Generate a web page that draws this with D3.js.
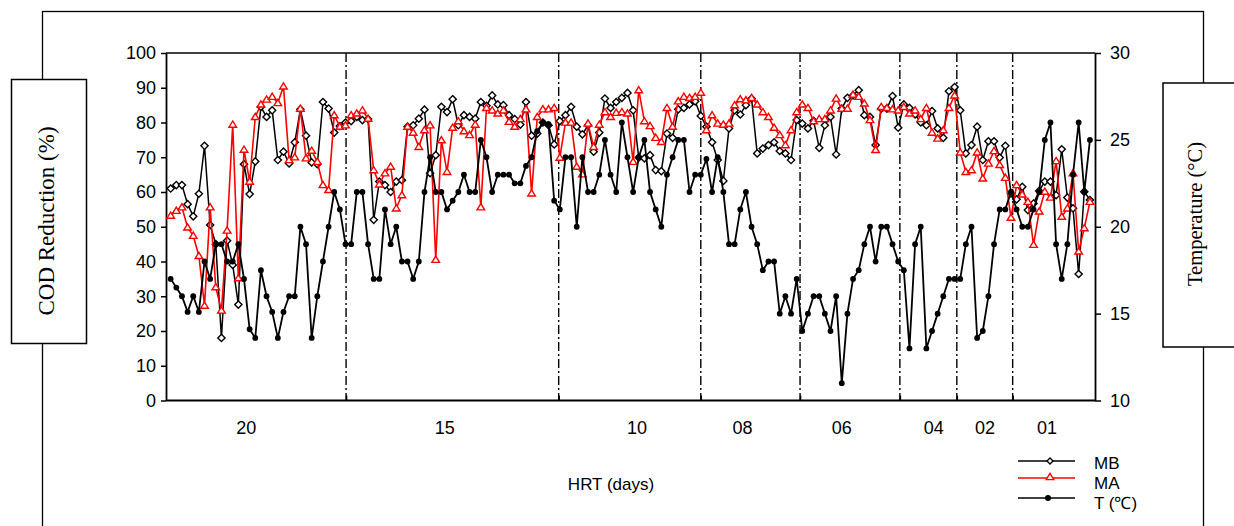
<!DOCTYPE html>
<html><head><meta charset="utf-8">
<script src="https://cdn.jsdelivr.net/npm/d3@7"></script>
<style>body{margin:0;background:#fff;} svg{display:block}</style>
</head><body><svg id="c" width="1234" height="526"></svg>
<script>
// COD reduction (%) for reactor MB
const mbValues = [61,62,62,56.5,53,59.5,73.3,50.5,45,18,46,39,27.6,68,59.4,68.8,84.5,81.6,83.5,69.2,
71.6,68.2,74.3,83.8,76.2,68.5,68,85.9,84,77.1,79,80,80.4,81.6,80.7,81,52,63,62,60,
63,63.4,78.8,79.2,81.1,83.7,65.4,70.6,84.5,83,86.7,79.2,82.1,81.6,81.1,85.9,84.8,87.8,85.2,85,
82.1,81,79.4,85.9,76.2,76.8,80,79.2,73.7,80.4,82.1,84.5,78.8,76.6,79.2,71.6,77.1,86.9,84.2,85.9,
87.1,88.5,83.5,69.9,69.7,70.6,66.3,66,76.8,75.6,83.8,84.2,85.2,86.1,81.9,78.8,74.3,69.2,63.2,78.3,
83.5,82.3,85,86.9,71.1,72.5,73.5,74.3,71.8,71.1,69.2,80.7,79.7,78.3,80.5,72.7,79.2,81.6,70.8,84,
87.1,87.8,89.3,82.1,81.6,73.5,84,84,87.6,78.5,85.2,84.2,82.3,80,79.2,83.3,78.3,75.6,89,90.2,
83.5,71.1,73.5,78.8,69.2,74.6,74.6,69.9,73.3,59.6,57.9,61.5,54.8,56.7,60.3,63,63,59.1,72.3,58.4,
55.3,36.4,60.1,57.7];
// COD reduction (%) for reactor MA
const maValues = [53.2,54.6,55.6,49.8,47.4,41.6,27.3,55.6,32.6,25.9,48.9,79.4,35.2,72.2,63,81.6,85.2,86.6,87.4,85.6,
90.4,69.2,70,84,69.7,71.9,68.7,62,60.6,82.1,78.8,79.2,82.1,82.6,83.5,81.1,66.3,62.2,65.4,67.3,
55.3,59.1,78.8,77.1,73,77.8,79.2,40.5,74.9,65.8,78.5,80.4,77.5,76.4,79.4,55.6,84.2,83.5,82.6,83.5,
80.2,78.8,81,83.8,59.6,81.6,83.8,83.8,84.2,69.9,80,80,67.3,65.1,79.7,73,79.4,83,81.6,82.8,
83,82.6,68.7,89.3,80.4,79,75.6,74.4,84.2,78.8,86.1,87.4,87.1,87.4,88.6,77.8,82.1,79.7,79.4,79.7,
85,86.7,86.4,87.1,85.2,83,81.6,78.5,76.4,73.5,77.8,83,85.2,84.2,80.4,81,81,83.5,86.9,84,
84,88,87.4,85.5,80.7,72.1,84.5,84.2,83.8,83.5,84.5,82.6,83.5,81,84.2,77.1,75.4,77.8,84.2,87.8,
71.4,65.8,66.3,71.4,63.9,68.2,71.8,67.8,64.1,52.6,62,59.3,57.2,44.8,54.4,60.1,58.4,68.9,52.9,55.3,
65.4,42.9,49.6,57.2];
// Temperature (°C)
const tempValues = [17,16.5,16,15.1,16,15.1,18,17,19,19,18,18,19,17,14.1,13.6,17.5,16,15.1,13.6,
15.1,16,16,20,19,13.6,16,18,20,22,21,19,19,22,22,19,17,17,21,19,
20,18,18,17,18,22,24,22,22,21,21.5,22,23,22,22,25,24,22,23,23,
23,22.5,22.5,23.5,24,25.5,26,25.9,21.5,21,24,24,20,24,22,22,23,25,23,22,
26,24,22,24,25,22,21,20,23,24,25,25,22,23,23,23.9,22,24,22,19,
19,21,22,20,19,17.5,18,18,15,16,15,17,14,15,16,16,15,14,16,11,
15,17,17.5,19,20,18,20,20,19,18,17.5,13,19,20,13,14,15,16,17,17,
17,19,20,13.6,14,16,19,21,21,22,21,20,20,21,22,25,26,19,17,19,
23,26,22,25];
// HRT phases (days), positions given in sample-index units
const hrtLabels = ["20","15","10","08","06","04","02","01"];
const hrtLabelAt = [13.4,48.6,82.7,101.4,119,135.3,144.4,155.4];
const hrtBoundaries = [31.1,68.8,94.0,111.6,129.3,139.4,149.3];
const codTicks = [0,10,20,30,40,50,60,70,80,90,100];
const tempTicks = [10,15,20,25,30];
const legendNames = ["MB","MA","T (\u2103)"];

const svg = d3.select("#c");
const sans = "Arial, 'Liberation Sans', sans-serif";
const serif = "'Times New Roman', 'Liberation Serif', serif";

const L = 166, R = 1095, T = 53, B = 400.5;
const x = d3.scaleLinear().domain([-0.83, mbValues.length - 1 + 0.9]).range([L, R]);
const yL = d3.scaleLinear().domain([0, 100]).range([B, T]);
const yR = d3.scaleLinear().domain([10, 30]).range([B, T]);

// outer frame
svg.append("rect").attr("x", 42.5).attr("y", 11.5).attr("width", 1161).attr("height", 600)
  .attr("fill", "none").attr("stroke", "#000").attr("stroke-width", 1.3);
// label boxes
svg.append("rect").attr("x", 11.5).attr("y", 79.5).attr("width", 75).attr("height", 264)
  .attr("fill", "#fff").attr("stroke", "#000").attr("stroke-width", 1.5);
svg.append("rect").attr("x", 1163).attr("y", 83).attr("width", 120).attr("height", 264)
  .attr("fill", "#fff").attr("stroke", "#000").attr("stroke-width", 1.5);
svg.append("text").attr("transform", "translate(54,221) rotate(-90)")
  .attr("text-anchor", "middle").attr("font-family", serif).attr("font-size", 23)
  .text("COD Reduction (%)");
svg.append("text").attr("transform", "translate(1202,214) rotate(-90)")
  .attr("text-anchor", "middle").attr("font-family", serif).attr("font-size", 20.5)
  .text("Temperature (\u00B0C)");

// dividers
svg.append("g").selectAll("line").data(hrtBoundaries).join("line")
  .attr("x1", d => x(d)).attr("x2", d => x(d)).attr("y1", T).attr("y2", B)
  .attr("stroke", "#000").attr("stroke-width", 1.4).attr("stroke-dasharray", "9,3,2,3");

// axes
const axL = svg.append("g").attr("transform", `translate(${L},0)`)
  .call(d3.axisLeft(yL).tickValues(codTicks).tickSize(5).tickPadding(5).tickSizeOuter(0));
const axR = svg.append("g").attr("transform", `translate(${R},0)`)
  .call(d3.axisRight(yR).tickValues(tempTicks).tickSize(6).tickPadding(9).tickSizeOuter(0));
const axB = svg.append("g").attr("transform", `translate(0,${B})`)
  .call(d3.axisBottom(x).tickValues(hrtBoundaries).tickSize(-5).tickFormat("").tickSizeOuter(0));
[axL, axR, axB].forEach(g => {
  g.select(".domain").attr("stroke", "#000").attr("stroke-width", 1.8);
  g.selectAll(".tick line").attr("stroke", "#000").attr("stroke-width", 1.5);
  g.selectAll(".tick text").attr("font-family", sans).attr("font-size", 18).attr("fill", "#000");
});
axB.select(".domain").attr("d", `M${L},0H${R}`);
svg.append("line").attr("x1", L).attr("x2", R).attr("y1", T).attr("y2", T)
  .attr("stroke", "#000").attr("stroke-width", 1.6);

// HRT labels
svg.append("g").selectAll("text").data(hrtLabels).join("text")
  .attr("x", (d, i) => x(hrtLabelAt[i])).attr("y", 434).attr("text-anchor", "middle")
  .attr("font-family", sans).attr("font-size", 18).text(d => d);
svg.append("text").attr("x", 611).attr("y", 490).attr("text-anchor", "middle")
  .attr("font-family", sans).attr("font-size", 17).text("HRT (days)");

// markers
const diamond = "M0,-3.6L3.6,0L0,3.6L-3.6,0Z";
const tri = "M0,-3.6L3.8,2.6L-3.8,2.6Z";

const lineL = d3.line().x((d, i) => x(i)).y(d => yL(d));
const lineR = d3.line().x((d, i) => x(i)).y(d => yR(d));

// MB
svg.append("path").datum(mbValues).attr("d", lineL).attr("fill", "none")
  .attr("stroke", "#000").attr("stroke-width", 1.5);
svg.append("g").selectAll("path").data(mbValues).join("path")
  .attr("transform", (d, i) => `translate(${x(i)},${yL(d)})`).attr("d", diamond)
  .attr("fill", "#fff").attr("stroke", "#000").attr("stroke-width", 1.4);
// MA
svg.append("path").datum(maValues).attr("d", lineL).attr("fill", "none")
  .attr("stroke", "#f00").attr("stroke-width", 1.6);
svg.append("g").selectAll("path").data(maValues).join("path")
  .attr("transform", (d, i) => `translate(${x(i)},${yL(d)})`).attr("d", tri)
  .attr("fill", "#fff").attr("stroke", "#f00").attr("stroke-width", 1.4);
// T
svg.append("path").datum(tempValues).attr("d", lineR).attr("fill", "none")
  .attr("stroke", "#000").attr("stroke-width", 1.8);
svg.append("g").selectAll("circle").data(tempValues).join("circle")
  .attr("cx", (d, i) => x(i)).attr("cy", d => yR(d)).attr("r", 2.9).attr("fill", "#000");

// legend
const lg = svg.append("g");
const ly = [461, 478, 498];
const lcol = ["#000", "#f00", "#000"];
legendNames.forEach((n, i) => {
  lg.append("line").attr("x1", 1018).attr("x2", 1075).attr("y1", ly[i]).attr("y2", ly[i])
    .attr("stroke", lcol[i]).attr("stroke-width", 1.6);
  if (i === 0) lg.append("path").attr("transform", `translate(1050,${ly[i]})`).attr("d", "M0,-3L3,0L0,3L-3,0Z")
    .attr("fill", "#fff").attr("stroke", "#000").attr("stroke-width", 1.4);
  if (i === 1) lg.append("path").attr("transform", `translate(1050,${ly[i]-1})`).attr("d", tri)
    .attr("fill", "#fff").attr("stroke", "#f00").attr("stroke-width", 1.4);
  if (i === 2) lg.append("circle").attr("cx", 1048).attr("cy", ly[i]).attr("r", 3).attr("fill", "#000");
  lg.append("text").attr("x", 1094).attr("y", [469, 489, 509][i]).attr("font-family", sans)
    .attr("font-size", 17).text(n);
});
</script></body></html>
